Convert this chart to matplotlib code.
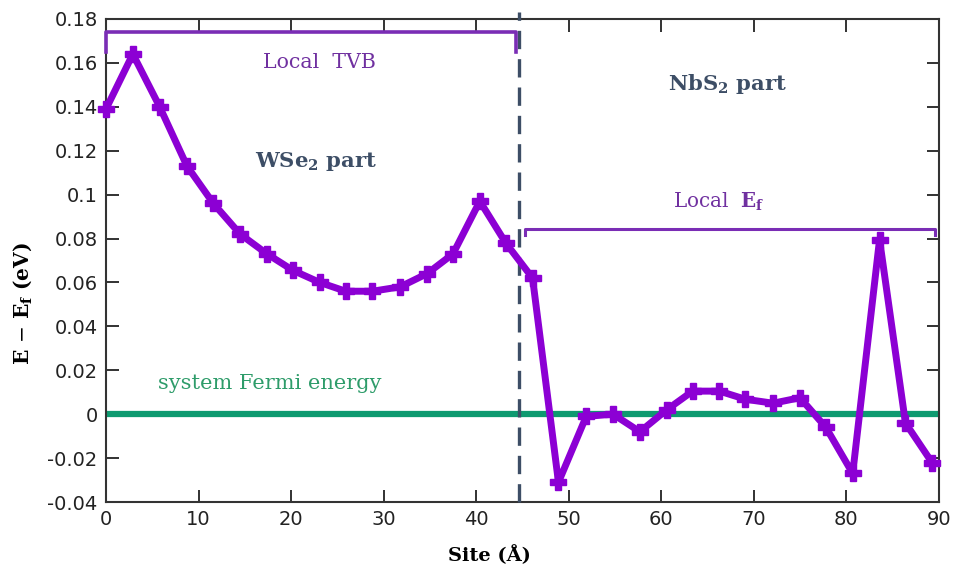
import numpy as np
import matplotlib.pyplot as plt

# site positions (Angstrom) and local energy relative to system Fermi level (eV)
site = [0.0, 2.9, 5.8, 8.75, 11.6, 14.5, 17.4, 20.2, 23.1, 25.9, 28.8, 31.8,
        34.7, 37.5, 40.4, 43.2, 46.1, 48.9, 51.9, 54.8, 57.7, 60.6, 63.4, 66.3,
        69.1, 72.1, 75.0, 77.8, 80.7, 83.6, 86.4, 89.3]
energy = [0.139, 0.164, 0.140, 0.113, 0.096, 0.082, 0.073, 0.0655, 0.060, 0.056,
          0.056, 0.058, 0.064, 0.073, 0.097, 0.078, 0.062, -0.031, -0.001, 0.0,
          -0.008, 0.002, 0.0105, 0.0105, 0.0068, 0.005, 0.0075, -0.006, -0.027,
          0.0795, -0.004, -0.0222]

interface_x = 44.6
tvb_span = [0.0, 44.3]
tvb_level = 0.174
ef_span = [45.3, 89.6]
ef_level = 0.0845

purple = "#8C00D4"
bracket = "#7A2DB5"
text_purple = "#7030A0"
green = "#0E9A70"
text_green = "#2E9C6A"
slate = "#3D4E66"
serif = "DejaVu Serif"

plt.rcParams["mathtext.fontset"] = "dejavuserif"

fig = plt.figure(figsize=(9.55, 5.67), dpi=100)
ax = fig.add_axes([0.111, 0.1146, 0.872, 0.852])

# system Fermi energy
ax.plot([0, 90], [0, 0], color=green, lw=4.5, zorder=2)

# interface between the two layers
ax.axvline(interface_x, ymin=0, ymax=1.015, color=slate, lw=2.4,
           ls=(0, (5.5, 3)), clip_on=False, zorder=3)

# brackets
d = 0.009
ax.plot([tvb_span[0], tvb_span[0], tvb_span[1], tvb_span[1]],
        [tvb_level - d, tvb_level, tvb_level, tvb_level - d],
        color=bracket, lw=2.6, clip_on=False, zorder=3)
d2 = 0.003
ax.plot([ef_span[0], ef_span[0], ef_span[1], ef_span[1]],
        [ef_level - d2, ef_level, ef_level, ef_level - d2],
        color=bracket, lw=2.2, zorder=3)

ax.plot(site, energy, color=purple, lw=5, marker="P", ms=11,
        mec=purple, mfc=purple, zorder=4, clip_on=False)

ax.text(23.1, 0.160, "Local  TVB", color=text_purple, fontsize=14.8,
        family=serif, ha="center", va="center")
ax.text(22.7, 0.1150, r"WSe$_\mathbf{2}$ part", color=slate, fontsize=15.2,
        family=serif, fontweight="bold", ha="center", va="center")
ax.text(67.2, 0.1505, r"NbS$_\mathbf{2}$ part", color=slate, fontsize=15.2,
        family=serif, fontweight="bold", ha="center", va="center")
ax.text(66.2, 0.0965, r"Local  $\mathbf{E}_\mathbf{f}$", color=text_purple,
        fontsize=14.3, family=serif, ha="center", va="center")
ax.text(17.7, 0.0142, "system Fermi energy", color=text_green, fontsize=15,
        family=serif, ha="center", va="center")

ax.set_xlim(0, 90)
ax.set_ylim(-0.04, 0.18)
ax.set_xticks(np.arange(0, 91, 10))
ax.set_yticks(np.arange(-0.04, 0.181, 0.02))
ax.set_yticklabels(["-0.04", "-0.02", "0", "0.02", "0.04", "0.06", "0.08",
                    "0.1", "0.12", "0.14", "0.16", "0.18"])
ax.tick_params(direction="in", top=True, right=True, length=9, width=1.3,
               labelsize=14, colors="#222222", pad=6)
for s in ax.spines.values():
    s.set_linewidth(1.5)
    s.set_color("#333333")

ax.set_xlabel("Site (Å)", fontsize=14, family=serif, fontweight="bold")
ax.set_ylabel(r"E $-$ E$_\mathbf{f}$ (eV)", fontsize=14.5, family=serif,
              fontweight="bold")
ax.xaxis.set_label_coords(0.461, -0.09)
ax.yaxis.set_label_coords(-0.086, 0.41)

fig.savefig("out.png", dpi=100)
